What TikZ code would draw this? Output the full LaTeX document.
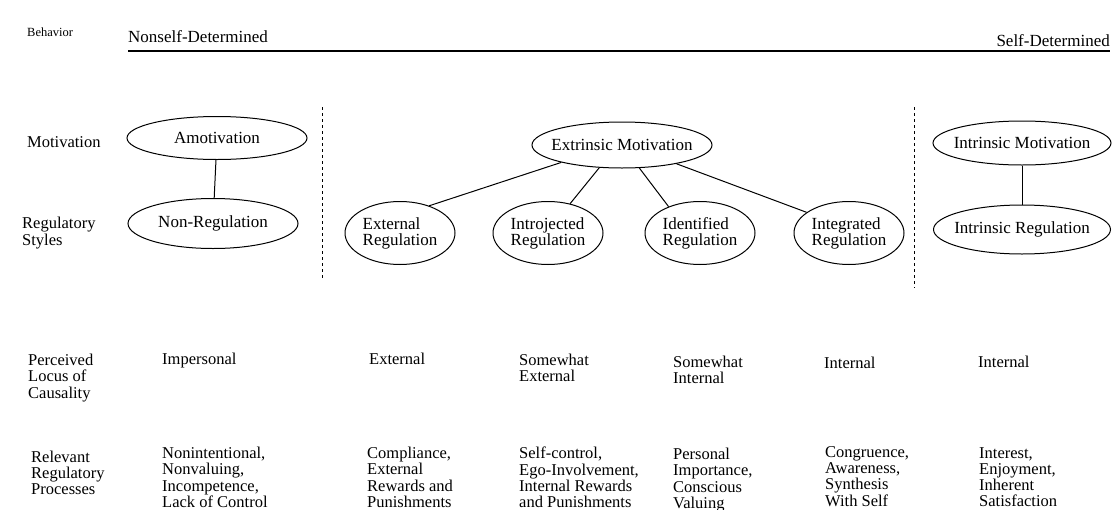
\documentclass[tikz,border=0pt]{standalone}
\usepackage{fontspec}
\setmainfont{Liberation Serif}
\usetikzlibrary{shapes.geometric, positioning}

\tikzset{
  oval/.style={ellipse, draw, line width=1pt, inner xsep=-16pt, inner ysep=-5pt,
    align=left, font=\fontsize{17}{16}\selectfont},
  wideoval/.style={oval, minimum width=180pt, minimum height=43pt},
  tworow/.style={oval, minimum width=110pt, minimum height=63pt},
  rowhead/.style={anchor=west, align=left, inner sep=0pt, font=\fontsize{16.5}{16.3}\selectfont},
  cell/.style={anchor=north west, align=left, inner sep=0pt, font=\fontsize{16.5}{16.3}\selectfont},
  axistext/.style={inner sep=0pt, font=\fontsize{17}{17}\selectfont},
  divider/.style={line width=0.9pt, dash pattern=on 3pt off 3pt},
}

\begin{document}
\begin{tikzpicture}[x=1pt, y=-1pt]
\useasboundingbox (0,0) rectangle (1117,509);

% behavior axis
\node[rowhead, font=\fontsize{12.5}{12.5}\selectfont] (beh) at (27,32) {Behavior};
\node[axistext, anchor=west] (nsd) at (128,37) {Nonself-Determined};
\node[axistext, anchor=east] (sd) at (1110,41) {Self-Determined};
\coordinate (axl) at (128,51);
\coordinate (axr) at (1110,51);
\draw[line width=1.2pt] (axl) -- (axr);

% dividers
\coordinate (d1t) at (322,107);
\coordinate (d1b) at (322,280);
\coordinate (d2t) at (914,107);
\coordinate (d2b) at (914,288);
\draw[divider] (d1t) -- (d1b);
\draw[divider] (d2t) -- (d2b);

% row heads
\node[rowhead] (mot) at (27,142) {Motivation};
\node[rowhead] (regst) at (22,233) {Regulatory\\Styles};
\node[rowhead] (locus) at (28,378) {Perceived\\Locus of\\Causality};
\node[rowhead] (proc) at (31,473) {Relevant\\Regulatory\\Processes};

% styles
\node[wideoval] (amot) at (217,138) {Amotivation};
\node[oval, minimum width=170pt, minimum height=50pt, below=38pt of amot, xshift=-4pt] (nonreg) {Non-Regulation};

\node[wideoval, minimum height=46pt] (ext) at (622,145) {Extrinsic Motivation};
\node[tworow] (extreg) at (400,233) {External\\Regulation};
\node[tworow, right=37pt of extreg] (introreg) {Introjected\\Regulation};
\node[tworow, right=41pt of introreg] (identreg) {Identified\\Regulation};
\node[tworow, right=38pt of identreg] (integreg) {Integrated\\Regulation};

\node[wideoval, minimum width=178pt, minimum height=44pt] (intrmot) at (1022,143) {Intrinsic Motivation};
\node[oval, minimum width=177pt, minimum height=49pt, below=39pt of intrmot] (intrreg) {Intrinsic Regulation};

\draw[line width=1pt] (amot) -- (nonreg);
\draw[line width=1pt] (intrmot) -- (intrreg);
\draw[line width=1pt] (ext.196) -- (extreg.43);
\draw[line width=1pt] (ext.225) -- (introreg.53);
\draw[line width=1pt] (ext.307) -- (identreg.140);
\draw[line width=1pt] (ext.341) -- (integreg.154);

% locus of causality
\node[cell] (imp) at (162,353) {Impersonal};
\node[cell] (lext) at (369,353) {External};
\node[cell] (lsext) at (519,354) {Somewhat\\External};
\node[cell] (lsint) at (673,356) {Somewhat\\Internal};
\node[cell] (lint) at (824,357) {Internal};
\node[cell] (lintr) at (978,356) {Internal};

% regulatory processes
\node[cell] (pamot) at (162,447) {Nonintentional,\\Nonvaluing,\\Incompetence,\\Lack of Control};
\node[cell] (pext) at (367,447) {Compliance,\\External\\Rewards and\\Punishments};
\node[cell] (pintro) at (519,447) {Self-control,\\Ego-Involvement,\\Internal Rewards\\and Punishments};
\node[cell] (pident) at (673,448) {Personal\\Importance,\\Conscious\\Valuing};
\node[cell] (pinteg) at (825,446) {Congruence,\\Awareness,\\Synthesis\\With Self};
\node[cell] (pintr) at (979,447) {Interest,\\Enjoyment,\\Inherent\\Satisfaction};
\end{tikzpicture}
\end{document}
